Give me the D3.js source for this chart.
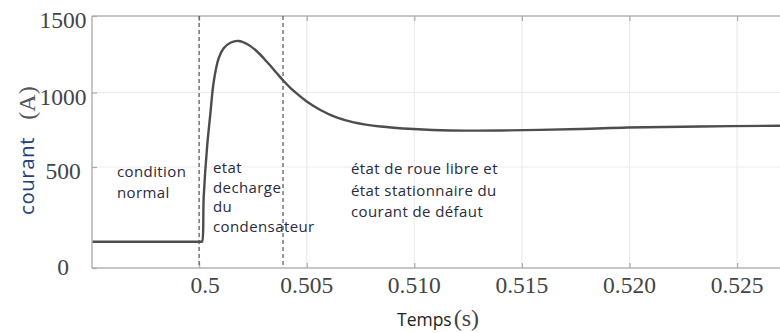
<!DOCTYPE html>
<html>
<head>
<meta charset="utf-8">
<script src="https://cdn.jsdelivr.net/npm/d3@7"></script>
<style>
  html, body { margin: 0; padding: 0; background: #fff; }
  svg { display: block; }
</style>
</head>
<body>
<svg id="chart" width="780" height="333"></svg>
<script>
// Fault current of the capacitor discharge, time in seconds, current in amperes
const timeS = [0.49505, 0.5001, 0.500139, 0.500214, 0.500372, 0.500525, 0.500678, 0.500911,
  0.501143, 0.501454, 0.50184, 0.50223, 0.502695, 0.50316, 0.503625, 0.503885, 0.504396,
  0.505019, 0.505637, 0.506413, 0.507184, 0.508425, 0.509958, 0.511678, 0.514001,
  0.517719, 0.519903, 0.523295, 0.527012, 0.5275];
const currentA = [130, 130, 130, 353, 636, 860, 1069, 1224,
  1289, 1325, 1337, 1317, 1268, 1199, 1124, 1082, 1010,
  938, 883, 831, 800, 772, 755, 745, 745,
  755, 765, 772, 777, 777];

// Phase boundaries (dashed markers)
const phaseBoundaries = [0.5, 0.5039];

// Axis ticks
const xTicks = [0.5, 0.505, 0.510, 0.515, 0.520, 0.525];
const xTickLabels = ["0.5", "0.505", "0.510", "0.515", "0.520", "0.525"];
const yTicks = [0, 500, 1000, 1500];
const yTickLabels = ["0", "500", "1000", "1500"];

// Phase annotations
const phaseNormal = ["condition", "normal"];
const phaseDischarge = ["etat", "decharge", "du", "condensateur"];
const phaseFreewheel = ["état de roue libre et", "état stationnaire du", "courant de défaut"];

(function draw() {
  const svg = d3.select("#chart");
  const pLeft = 92, pTop = 16, pBottom = 268, pRight = 790;

  const x = d3.scaleLinear().domain([0.495, 0.5275]).range([91.5, 91.5 + 6.5 * 107.6]);
  // Current axis: lower band 0–500 is drawn taller than the upper bands
  const y = d3.scaleLinear().domain([0, 500, 1000, 1500]).range([pBottom, 167, 92.5, pTop]);

  // Grid
  const grid = svg.append("g");
  grid.selectAll("line.vx").data(xTicks).join("line")
    .attr("x1", d => x(d)).attr("x2", d => x(d))
    .attr("y1", pTop).attr("y2", pBottom)
    .attr("stroke", "#ececec").attr("stroke-width", 1.2);
  grid.selectAll("line.hy").data(yTicks.filter(d => d > 0 && d < 1500)).join("line")
    .attr("x1", pLeft).attr("x2", pRight)
    .attr("y1", d => y(d)).attr("y2", d => y(d))
    .attr("stroke", "#ececec").attr("stroke-width", 1.2);

  // Frame
  const frameColor = "#b3b3b3";
  svg.append("line").attr("x1", pLeft).attr("x2", pRight).attr("y1", pTop).attr("y2", pTop)
    .attr("stroke", frameColor).attr("stroke-width", 1.5);
  svg.append("line").attr("x1", pLeft).attr("x2", pRight).attr("y1", pBottom).attr("y2", pBottom)
    .attr("stroke", frameColor).attr("stroke-width", 1.5);
  svg.append("line").attr("x1", pLeft).attr("x2", pLeft).attr("y1", pTop).attr("y2", pBottom)
    .attr("stroke", frameColor).attr("stroke-width", 1.5);

  // Inner ticks on bottom, top and left edges
  const xAxis = svg.append("g").attr("transform", `translate(0,${pBottom})`)
    .call(d3.axisTop(x).tickValues(xTicks).tickSize(5).tickFormat(""));
  const xAxisTop = svg.append("g").attr("transform", `translate(0,${pTop})`)
    .call(d3.axisBottom(x).tickValues(xTicks).tickSize(5).tickFormat(""));
  const yAxis = svg.append("g").attr("transform", `translate(${pLeft},0)`)
    .call(d3.axisRight(y).tickValues(yTicks).tickSize(5).tickFormat(""));
  [xAxis, xAxisTop, yAxis].forEach(g => {
    g.select(".domain").remove();
    g.selectAll(".tick line").attr("stroke", "#aaa").attr("stroke-width", 1.2);
  });

  // Tick labels
  const serif = "'Liberation Serif', 'Times New Roman', serif";
  svg.append("g").selectAll("text").data(xTicks).join("text")
    .attr("x", (d, i) => x(d) + (i === 0 ? 6 : 0))
    .attr("y", 293)
    .attr("text-anchor", "middle")
    .attr("font-family", serif).attr("font-size", 23.5).attr("fill", "#444")
    .text((d, i) => xTickLabels[i]);

  svg.append("g").selectAll("text").data(yTicks).join("text")
    .attr("x", 63)
    .attr("y", d => d === 0 ? 275 : y(d) + 12)
    .attr("text-anchor", "middle")
    .attr("font-family", serif).attr("font-size", 23.5).attr("fill", "#444")
    .text((d, i) => yTickLabels[i]);

  // Axis titles
  const sans = "'Open Sans', 'Noto Sans', sans-serif";
  const xt = svg.append("text").attr("x", 397).attr("y", 326).attr("font-family", sans)
    .attr("font-size", 17.5).attr("fill", "#222");
  xt.append("tspan").text("Temps");
  xt.append("tspan").attr("font-family", serif).attr("font-size", 24).attr("fill", "#444")
    .attr("dx", 2).text("(s)");

  svg.append("text").attr("transform", "translate(34,176) rotate(-90)")
    .attr("text-anchor", "middle").attr("font-family", sans).attr("font-size", 20.5)
    .attr("letter-spacing", 0.5)
    .attr("fill", "#23407a").text("courant");
  svg.append("text").attr("transform", "translate(35,103) rotate(-90)")
    .attr("text-anchor", "middle").attr("font-family", serif).attr("font-size", 24)
    .attr("fill", "#555").text("(A)");

  // Phase boundary markers
  svg.append("g").selectAll("line").data(phaseBoundaries).join("line")
    .attr("x1", d => x(d)).attr("x2", d => x(d))
    .attr("y1", pTop).attr("y2", pBottom)
    .attr("stroke", "#555").attr("stroke-width", 1.2).attr("stroke-dasharray", "4,3");

  // Current curve
  const line = d3.line().x((d, i) => x(timeS[i])).y(d => y(d))
    .curve(d3.curveCatmullRom.alpha(0.5));
  svg.append("path").datum(currentA).attr("d", line)
    .attr("fill", "none").attr("stroke", "#4d4d4d").attr("stroke-width", 2.4)
    .attr("stroke-linejoin", "round");

  // Phase annotations
  function annotate(lines, x0, ys) {
    svg.append("g").selectAll("text").data(lines).join("text")
      .attr("x", x0).attr("y", (d, i) => ys[i])
      .attr("font-family", sans).attr("font-size", 15).attr("letter-spacing", 0.4)
      .attr("fill", "#2a2a3a")
      .text(d => d);
  }
  annotate(phaseNormal, 117, [177, 198]);
  annotate(phaseDischarge, 213, [173, 193, 212, 232]);
  annotate(phaseFreewheel, 351, [173.5, 195.5, 217]);
})();
</script>
</body>
</html>
